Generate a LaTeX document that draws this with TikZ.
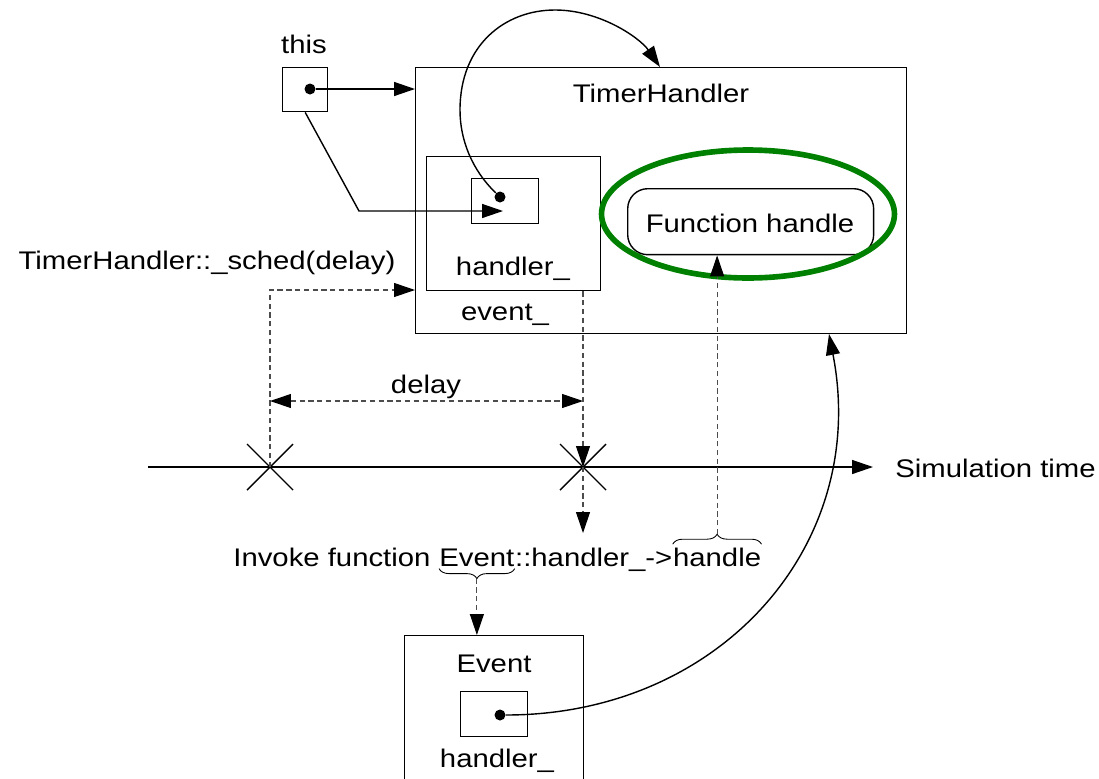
\documentclass[tikz,border=0pt]{standalone}
\usepackage{fontspec}
\setmainfont{Liberation Sans}
\usetikzlibrary{arrows.meta,decorations.pathreplacing,calc,positioning}

\tikzset{
  >={Triangle[length=0.42cm,width=0.28cm,color=black]},
  txt/.style={font=\fontsize{14.5}{17}\selectfont, xscale=1.15, inner sep=0pt},
  box/.style={draw, line width=0.8pt, inner sep=0pt, anchor=north west},
  ptr/.style={circle, fill, inner sep=0pt, minimum size=0.22cm},
  link/.style={line width=0.8pt, ->},
  dlink/.style={line width=0.6pt, black!70, dash pattern=on 3pt off 2pt, ->},
  brace/.style={decorate, decoration={brace, amplitude=0.2cm}, line width=0.5pt},
  tick/.style={line width=0.8pt}
}

\begin{document}
\begin{tikzpicture}[x=0.02cm, y=-0.02cm]
\clip (0,0) rectangle (1099,778);

% the "this" pointer
\node[box, minimum width=0.9cm, minimum height=0.88cm] (this) at (282,67) {};
\node[txt, anchor=base] (thislbl) at (304,53) {this};
\node[ptr] (thisdot) at (310,89) {};

% TimerHandler object with its event_ and handler_
\node[box, minimum width=9.82cm, minimum height=5.32cm] (th) at (415,67) {};
\node[txt, anchor=base] (thlbl) at (661,102) {TimerHandler};
\node[box, minimum width=3.48cm, minimum height=2.68cm] (evbox) at (426,156) {};
\node[box, minimum width=1.34cm, minimum height=0.9cm] (hbox) at (471,178) {};
\node[ptr] (hdot) at (500,197) {};
\node[txt, anchor=base] (hlbl) at (513,275) {handler\_};
\node[txt, anchor=base] (evlbl) at (505,320) {event\_};

% function handle, circled
\node[box, rounded corners=0.4cm, minimum width=4.92cm, minimum height=1.32cm] (fh) at (627,188) {};
\node[txt, anchor=base] (fhlbl) at (750,232) {Function handle};
\draw[green!50!black, line width=3.2pt] (748,214) ellipse [x radius=2.93cm, y radius=1.28cm];

% Event object
\node[box, minimum width=3.58cm, minimum height=3.4cm] (eobj) at (404,635) {};
\node[txt, anchor=base] (eobjlbl) at (494,672) {Event};
\node[box, minimum width=1.34cm, minimum height=0.9cm] (ehbox) at (460,691) {};
\node[ptr] (edot) at (500,715) {};
\node[txt, anchor=base] (ehlbl) at (497,767) {handler\_};

% time line
\coordinate (axstart) at (148,467);
\coordinate (axend) at (873,467);
\coordinate (t0) at (270,467);
\coordinate (t1) at (583,467);
\node[txt, anchor=base west] (simt) at (895,477) {Simulation time};
\draw[link] (axstart) -- (axend);
\foreach \p in {t0,t1}
  \draw[tick] (\p) ++(-23,-23) -- ++(46,46) ++(0,-46) -- ++(-46,46);

% labels along the time line
\node[txt, anchor=base] (sched) at (207,269) {TimerHandler::\_sched(delay)};
\node[txt, anchor=base] (delay) at (426,393) {delay};
\node[txt, anchor=base west] (inv) at (233,566) {Invoke function\ \mbox{}};
\node[txt, anchor=base west] (evword) at (inv.base east) {Event};
\node[txt, anchor=base west] (mid) at (evword.base east) {::handler\_->};
\node[txt, anchor=base west] (hdword) at (mid.base east) {handle};

% braces under/over the call
\draw[brace] ($(evword.south east)+(0,2)$) -- ($(evword.south west)+(0,2)$);
\draw[brace] ($(hdword.north west)+(0,-3)$) -- ($(hdword.north east)+(0,-3)$);
\coordinate (evtip) at ($(evword.south)+(0,12)$);
\coordinate (hdtip) at ($(hdword.north)+(0,-13)$);

% pointers
\coordinate (hbtip) at (503,211);
\draw[link] (thisdot) -- (thisdot -| th.west);
\draw[link] (this.south) -- (359,211) -- (hbtip);
\coordinate (thtop) at (660,67);
\draw[link] (hdot) .. controls (472,170) and (460,140) .. (460,110)
  .. controls (460,45) and (505,10) .. (555,10)
  .. controls (600,10) and (640,38) .. (thtop);
\coordinate (thbot) at (829,334);
\draw[link] (edot) .. controls (720,715) and (870,545) .. (thbot);

% dashed scheduling arrows
\coordinate (schedin) at (th.west |- 0,290);
\coordinate (callpt) at (583,533);
\draw[dlink] (t0) |- (schedin);
\draw[dlink, <->] (t0 |- 0,401) -- (t1 |- 0,401);
\draw[dlink] (evbox.south -| t1) -- (t1);
\draw[dlink] (t1) -- (callpt);
\draw[dlink] (hdtip) -- (hdtip |- fh.south);
\draw[dlink] (evtip) -- (evtip |- eobj.north);
\end{tikzpicture}
\end{document}
